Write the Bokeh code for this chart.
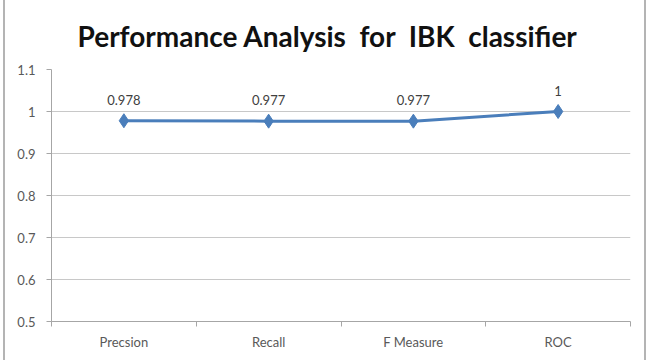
from bokeh.plotting import figure
from bokeh.models import (ColumnDataSource, FixedTicker, CustomJSTickFormatter,
                          Range1d)
from bokeh.core.properties import value
from bokeh.embed import file_html
from bokeh.resources import INLINE

title_text = "Performance Analysis\u00a0\u00a0for\u00a0\u00a0IBK\u00a0\u00a0classifier"
categories = ["Precsion", "Recall", "F Measure", "ROC"]
scores = [0.978, 0.977, 0.977, 1.0]
score_labels = ["0.978", "0.977", "0.977", "1"]
y_ticks = [0.5, 0.6, 0.7, 0.8, 0.9, 1.0, 1.1]

xs = [i + 0.5 for i in range(len(categories))]
src = ColumnDataSource(dict(x=xs, y=scores, lab=score_labels))

FONT = "Lato"
GRAY_TXT = "#595959"
GRID = "#c8c8c8"
BLUE = "#4a7ebb"

p = figure(width=643, height=360, output_backend="svg", toolbar_location=None,
           x_range=Range1d(0, len(categories)), y_range=Range1d(y_ticks[0], y_ticks[-1]),
           min_border_left=46, min_border_right=18, min_border_top=69,
           min_border_bottom=39)
p.styles = {"border-left": "2px solid #b4b4b4", "border-right": "2px solid #b4b4b4",
            "margin-left": "3px"}
p.outline_line_color = None
p.background_fill_color = "white"
p.border_fill_color = "white"

p.title.text = title_text
p.title.align = "left"
p.title.standoff = 33
p.title.offset = 26
p.title.text_font = FONT
p.title.text_font_size = "28px"
p.title.text_font_style = "bold"
p.title.text_color = "#111111"

# y axis
p.yaxis.ticker = FixedTicker(ticks=y_ticks)
p.yaxis.formatter = CustomJSTickFormatter(code="return tick.toFixed(1).replace(/\\.0$/, '');")
p.yaxis.axis_line_color = "#a6a6a6"
p.yaxis.major_tick_line_color = "#a6a6a6"
p.yaxis.major_tick_out = 5
p.yaxis.major_tick_in = 0
p.yaxis.minor_tick_line_color = None
p.yaxis.major_label_text_font = FONT
p.yaxis.major_label_text_font_size = "13px"
p.yaxis.major_label_text_color = GRAY_TXT
p.yaxis.major_label_standoff = 11

# x axis: labels at category centers, tick marks at boundaries
p.xaxis.ticker = FixedTicker(ticks=xs, minor_ticks=list(range(len(categories) + 1)))
p.xaxis.major_label_overrides = {x: c for x, c in zip(xs, categories)}
p.xaxis.axis_line_color = "#a6a6a6"
p.xaxis.major_tick_line_color = None
p.xaxis.minor_tick_line_color = "#a6a6a6"
p.xaxis.minor_tick_out = 5
p.xaxis.minor_tick_in = 0
p.xaxis.major_label_text_font = FONT
p.xaxis.major_label_text_font_size = "13px"
p.xaxis.major_label_text_color = GRAY_TXT
p.xaxis.major_label_standoff = 6

p.xgrid.grid_line_color = None
p.ygrid.grid_line_color = GRID
p.ygrid.grid_line_width = 1

p.line("x", "y", source=src, line_color=BLUE, line_width=3)
p.scatter("x", "y", source=src, marker="diamond", size=14,
          fill_color=BLUE, line_color=BLUE)
p.text("x", "y", text="lab", source=src, text_align="center",
       text_baseline="middle", y_offset=-21, text_font=value(FONT),
       text_font_size="13px", text_color="#404040")

open("out.html", "w").write(file_html(p, INLINE))
